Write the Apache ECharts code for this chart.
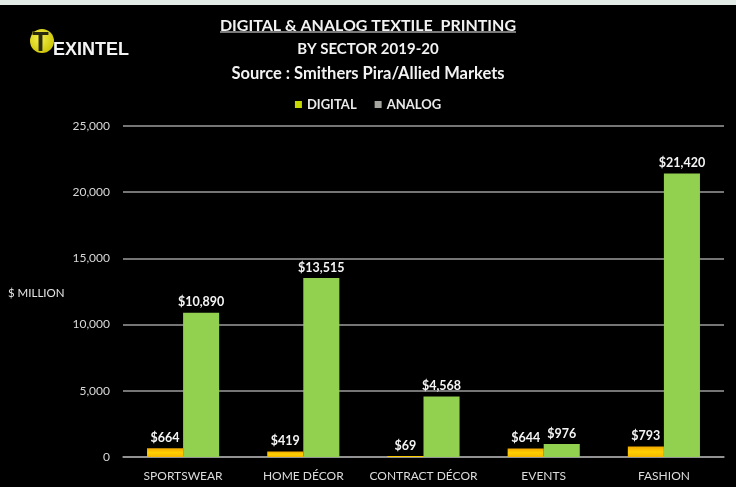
<!DOCTYPE html>
<html>
<head>
<meta charset="utf-8">
<script src="https://cdn.jsdelivr.net/npm/echarts@6/dist/echarts.min.js"></script>
<style>
  html, body { margin: 0; padding: 0; background: #000; }
  #chart { width: 736px; height: 487px; }
</style>
</head>
<body>
<div id="chart"></div>
<script>
// Textile printing market by sector, 2019-20 ($ million)
const sectors = ['SPORTSWEAR', 'HOME DÉCOR', 'CONTRACT DÉCOR', 'EVENTS', 'FASHION'];
const digitalValues = [664, 419, 69, 644, 793];
const analogValues = [10890, 13515, 4568, 976, 21420];
const yTicks = { min: 0, max: 25000, interval: 5000 };

const FONT = 'Lato, "Open Sans", sans-serif';
const money = v => '$' + v.toLocaleString('en-US');

const heading = 'DIGITAL & ANALOG TEXTILE  PRINTING';
const headingFont = 'bold 16px ' + FONT;

// width of the heading, used to size its underline
const measure = document.createElement('canvas').getContext('2d');
measure.font = headingFont;
const headingWidth = measure.measureText(heading).width;
const centerX = 736 / 2;

const chart = echarts.init(document.getElementById('chart'));

chart.setOption({
  backgroundColor: '#000',
  animation: false,
  title: [
    { text: heading, left: 'center', top: 13,
      textStyle: { color: '#f2f2f2', fontFamily: FONT, fontWeight: 'bold', fontSize: 16 } },
    { text: 'BY SECTOR 2019-20', left: 'center', top: 37,
      textStyle: { color: '#f2f2f2', fontFamily: FONT, fontWeight: 'bold', fontSize: 15 } },
    { text: 'Source : Smithers Pira/Allied Markets', left: 'center', top: 60,
      textStyle: { color: '#f2f2f2', fontFamily: FONT, fontWeight: 'bold', fontSize: 16.5 } }
  ],
  legend: {
    top: 93,
    left: 'center',
    icon: 'rect',
    itemWidth: 7,
    itemHeight: 7,
    itemGap: 18,
    textStyle: { color: '#eaeaea', fontFamily: FONT, fontWeight: 'bold', fontSize: 13 },
    data: [
      { name: 'DIGITAL', itemStyle: { color: '#c6d800' } },
      { name: 'ANALOG', itemStyle: { color: '#a6a6a0' } }
    ]
  },
  grid: { left: 123, right: 12, top: 126, bottom: 30 },
  xAxis: {
    type: 'category',
    data: sectors,
    axisLine: { lineStyle: { color: '#9c9c9c', width: 1.5 } },
    axisTick: { show: false },
    axisLabel: { interval: 0, color: '#dcdcdc', fontFamily: FONT, fontSize: 12, margin: 13 }
  },
  yAxis: {
    type: 'value',
    min: yTicks.min,
    max: yTicks.max,
    interval: yTicks.interval,
    axisLine: { show: false },
    axisTick: { show: false },
    axisLabel: {
      color: '#d8d8d8', fontFamily: FONT, fontSize: 12, margin: 13,
      formatter: v => v.toLocaleString('en-US')
    },
    splitLine: { lineStyle: { color: '#9c9c9c', width: 1.5 } }
  },
  series: [
    {
      name: 'DIGITAL',
      type: 'bar',
      data: digitalValues,
      barGap: '0%',
      barCategoryGap: '40%',
      itemStyle: {
        color: new echarts.graphic.LinearGradient(0, 0, 0, 1, [
          { offset: 0, color: '#f2a800' },
          { offset: 0.5, color: '#ffd000' },
          { offset: 1, color: '#f5b800' }
        ])
      },
      label: {
        show: true, position: 'top', distance: 4,
        color: '#f4f4f4', fontFamily: FONT, fontWeight: 'bold', fontSize: 12.5,
        formatter: p => money(p.value)
      }
    },
    {
      name: 'ANALOG',
      type: 'bar',
      data: analogValues,
      itemStyle: { color: '#92d050' },
      label: {
        show: true, position: 'top', distance: 4,
        color: '#f4f4f4', fontFamily: FONT, fontWeight: 'bold', fontSize: 12.5,
        formatter: p => money(p.value)
      }
    }
  ],
  graphic: [
    // pale strip along the top edge
    { type: 'rect', left: 0, top: 0, shape: { width: 736, height: 5 },
      style: { fill: '#e2ebe6' }, silent: true },
    // underline of the main heading
    { type: 'line',
      shape: { x1: centerX - headingWidth / 2, y1: 32, x2: centerX + headingWidth / 2, y2: 32 },
      style: { stroke: '#f2f2f2', lineWidth: 1.2 }, silent: true },
    // TEXINTEL logo
    { type: 'circle', shape: { cx: 42, cy: 41, r: 12 },
      style: { fill: new echarts.graphic.RadialGradient(0.4, 0.4, 0.7, [
        { offset: 0, color: '#f4f04a' }, { offset: 1, color: '#c9c000' }
      ]) }, silent: true },
    { type: 'text', left: 32, top: 30,
      style: { text: 'T', fill: '#2a2a10', stroke: '#e8e040', lineWidth: 0.6,
        font: 'bold 27px "Liberation Sans", sans-serif' }, silent: true },
    { type: 'text', left: 53, top: 41,
      style: { text: 'EXINTEL', fill: '#f4f4f4', font: 'bold 18px "Liberation Sans", sans-serif' }, silent: true },
    // value axis caption
    { type: 'text', left: 8, top: 287,
      style: { text: '$ MILLION', fill: '#e6e6e6', font: '11.5px ' + FONT }, silent: true }
  ]
});
</script>
</body>
</html>
